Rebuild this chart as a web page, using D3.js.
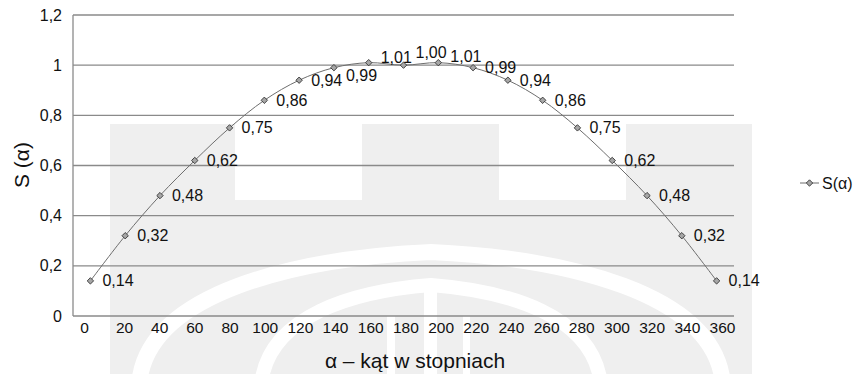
<!DOCTYPE html>
<html>
<head>
<meta charset="utf-8">
<script src="https://cdn.jsdelivr.net/npm/d3@7"></script>
<style>
  body { margin: 0; background: #fff; }
  svg { display: block; font-family: "Liberation Sans", Arial, sans-serif; }
</style>
</head>
<body>
<svg id="chart" width="853" height="374"></svg>
<script>
// ---- data ----
const angles = [0,20,40,60,80,100,120,140,160,180,200,220,240,260,280,300,320,340,360];
const values = [0.14,0.32,0.48,0.62,0.75,0.86,0.94,0.99,1.01,1.00,1.01,0.99,0.94,0.86,0.75,0.62,0.48,0.32,0.14];
const yTicks = [0,0.2,0.4,0.6,0.8,1,1.2];
const xTickLabels = angles;
const seriesName = "S(\u03b1)";
const xTitle = "\u03b1 \u2013 k\u0105t w stopniach";
const yTitle = "S (\u03b1)";

// ---- layout ----
const W = 853, H = 374;
const plot = { left: 73, right: 734, top: 15, bottom: 316 };
// vertical nudges of a few data labels near the peak (layout only)
const labelNudge = { 140: 8, 160: -5, 180: -13, 200: -6 };
const svg = d3.select("#chart");
const loc = d3.formatLocale({ decimal: ",", thousands: " ", grouping: [3], currency: ["", ""] });
const fmtTick = loc.format("~g");
const fmtLabel = loc.format(".2f");

// ---- faint background watermark ----
const wm = svg.append("g");
const wmGray = "#efefef";
const wmL = 110, wmR = 752, wmC = (wmL + wmR) / 2;
const towerTop = 124, bodyTop = 200;
const towers = [[110, 235], [362, 499], [626, 752]];
wm.append("rect").attr("x", wmL).attr("y", bodyTop).attr("width", wmR - wmL).attr("height", H - bodyTop).attr("fill", wmGray);
towers.forEach(t => wm.append("rect").attr("x", t[0]).attr("y", towerTop).attr("width", t[1] - t[0]).attr("height", bodyTop - towerTop + 1).attr("fill", wmGray));
function archPath(w, apex, yb) {
  const p = d3.path();
  p.moveTo(wmC - w, yb);
  p.bezierCurveTo(wmC - w + 7, yb - (yb - apex) * 0.7, wmC - w * 0.45, apex + 6, wmC, apex);
  p.bezierCurveTo(wmC + w * 0.45, apex + 6, wmC + w - 7, yb - (yb - apex) * 0.7, wmC + w, yb);
  return p.toString();
}
wm.append("path").attr("d", archPath(292, 252, 385)).attr("fill", "none").attr("stroke", "#fff").attr("stroke-width", 16);
wm.append("path").attr("d", archPath(170, 285, 385)).attr("fill", "none").attr("stroke", "#fff").attr("stroke-width", 14);
[[387, 395, 316], [424, 437, 292], [463, 470, 316]].forEach(b =>
  wm.append("rect").attr("x", b[0]).attr("y", b[2]).attr("width", b[1] - b[0]).attr("height", H - b[2]).attr("fill", "#fff"));

// ---- scales ----
const x = d3.scalePoint().domain(angles).range([plot.left, plot.right]).padding(0.5);
const xLab = d3.scaleLinear().domain([0, 20, 360]).range([84, 124, 722]);
const y = d3.scaleLinear().domain([0, 1.2]).range([plot.bottom, plot.top]);

// ---- gridlines ----
const gridColor = "#8a8a8a";
svg.append("g").selectAll("line").data(yTicks).join("line")
  .attr("x1", plot.left).attr("x2", plot.right)
  .attr("y1", d => y(d)).attr("y2", d => y(d))
  .attr("stroke", gridColor).attr("stroke-width", 1.3);
svg.append("line").attr("x1", plot.left).attr("x2", plot.left)
  .attr("y1", plot.top).attr("y2", plot.bottom)
  .attr("stroke", gridColor).attr("stroke-width", 1.3);

// ---- axes ----
const yAxis = svg.append("g").attr("transform", `translate(${plot.left},0)`)
  .call(d3.axisLeft(y).tickValues(yTicks).tickFormat(fmtTick).tickSize(0).tickPadding(11));
yAxis.select(".domain").remove();
yAxis.selectAll("text").attr("font-size", 16).attr("fill", "#111").attr("font-family", "Liberation Sans, Arial, sans-serif");

const xAxis = svg.append("g").attr("transform", `translate(0,${plot.bottom})`)
  .call(d3.axisBottom(xLab).tickValues(xTickLabels).tickFormat(d => String(d)).tickSize(0).tickPadding(6));
xAxis.select(".domain").remove();
xAxis.selectAll("text").attr("font-size", 15.5).attr("fill", "#111").attr("font-family", "Liberation Sans, Arial, sans-serif");

// ---- titles ----
svg.append("text").attr("x", 415).attr("y", 368).attr("text-anchor", "middle")
  .attr("font-size", 21).attr("fill", "#111").text(xTitle);
svg.append("text").attr("transform", "translate(29,165) rotate(-90)").attr("text-anchor", "middle")
  .attr("font-size", 21).attr("fill", "#111").text(yTitle);

// ---- series ----
const pts = angles.map((a, i) => ({ a, v: values[i] }));
const line = d3.line().x(d => x(d.a)).y(d => y(d.v)).curve(d3.curveCatmullRom.alpha(0.5));
svg.append("path").datum(pts).attr("d", line).attr("fill", "none").attr("stroke", "#6e6e6e").attr("stroke-width", 1);

const diamond = d3.symbol().type(d3.symbolDiamond2).size(26);
svg.append("g").selectAll("path").data(pts).join("path")
  .attr("transform", d => `translate(${x(d.a)},${y(d.v)})`)
  .attr("d", diamond)
  .attr("fill", "#a6a6a6").attr("stroke", "#333").attr("stroke-width", 0.9);

svg.append("g").selectAll("text").data(pts).join("text")
  .attr("x", d => x(d.a) + 12).attr("y", d => y(d.v) + (labelNudge[d.a] || 0))
  .attr("dy", "0.35em").attr("font-size", 16).attr("fill", "#111")
  .text(d => fmtLabel(d.v));

// ---- legend ----
const lg = svg.append("g").attr("transform", "translate(800,183)");
lg.append("line").attr("x1", 0).attr("x2", 19).attr("y1", 0).attr("y2", 0).attr("stroke", "#6e6e6e").attr("stroke-width", 1);
lg.append("path").attr("transform", "translate(9.5,0)").attr("d", diamond).attr("fill", "#a6a6a6").attr("stroke", "#333").attr("stroke-width", 0.9);
lg.append("text").attr("x", 22).attr("y", 0).attr("dy", "0.35em").attr("font-size", 16).attr("fill", "#111").text(seriesName);
</script>
</body>
</html>
